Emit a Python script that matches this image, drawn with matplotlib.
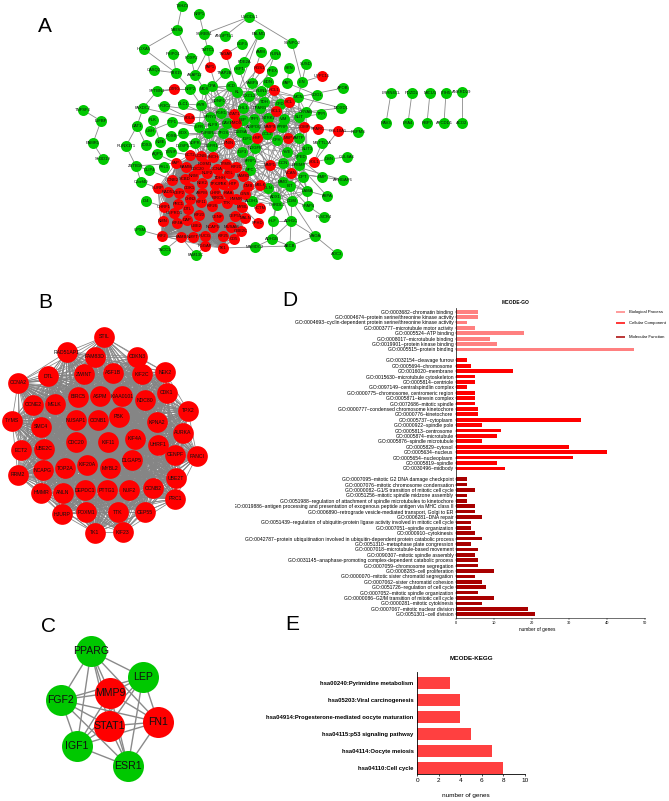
# -*- coding: utf-8 -*-
import itertools
import matplotlib
matplotlib.use('Agg')
import matplotlib.pyplot as plt
from matplotlib.collections import LineCollection
from matplotlib.transforms import Bbox

plt.rcParams['font.family'] = ['Liberation Sans', 'DejaVu Sans']

W, H = 669, 801
GREEN = '#00C800'
RED = '#FF0000'

##########################panel A network (name, x, y)##########################
a_green = [
    ('TSHZ3', 182, 6), ('NRP1', 199, 14), ('UMODL1', 249, 17), ('MEIS2', 177, 30), ('SORBS1', 204, 34),
    ('ANGPTL1', 225, 36), ('PALMD', 259, 34), ('HOXA5', 144, 49), ('TMTC1', 208, 50), ('EGF3', 242, 44),
    ('AMM', 261, 52), ('PLIN4', 275, 54), ('PSIPG1', 173, 54), ('FOXP2', 191, 58), ('PDE2A', 244, 62),
    ('HBP1', 239, 69), ('PPEX', 272, 71), ('CASQ2', 154, 70), ('TBX15', 176, 73), ('AKAP12', 195, 75),
    ('TFAP2B', 225, 73), ('SPTBN1', 157, 91), ('NRP2', 190, 89), ('MDS', 204, 89), ('OPA', 212, 86),
    ('SCD', 231, 86), ('KL', 237, 92), ('FABP4', 252, 83), ('EDN', 268, 82), ('PLIN1', 261, 91),
    ('CXCL2', 249, 96), ('TDH', 264, 102), ('CFD', 280, 104), ('FAXDC2', 143, 108), ('HR3C2', 164, 106),
    ('DLC1', 183, 104), ('KVR', 201, 105), ('SDNFO', 219, 101), ('CHL1', 243, 108), ('PPARG', 260, 108),
    ('PFRY1', 210, 117), ('FGR1', 221, 113), ('LEP', 243, 120), ('TFPI', 254, 119), ('NTRK2', 268, 118),
    ('VIM', 284, 119), ('PLK', 153, 120), ('TTF1', 172, 122), ('CAT1', 137, 126), ('LIFR', 199, 127),
    ('KLF9', 213, 125), ('CAV1', 227, 123), ('ADIPOQ', 254, 127), ('FPRP', 282, 127), ('TNFSF3', 83, 110),
    ('IGFBP', 101, 121), ('PAMR1', 93, 143), ('SH3D19', 103, 159), ('RUNX1T1', 126, 146), ('USH', 150, 131),
    ('NME', 160, 142), ('FOSB', 171, 136), ('BDX', 183, 133), ('TOX3', 146, 145), ('DUSP1', 183, 146),
    ('SDPR', 195, 143), ('TGFBR3', 208, 133), ('TFOS', 223, 133), ('C1BSA', 241, 132), ('IGF1', 247, 139),
    ('CCL2', 267, 134), ('CFH', 277, 140), ('TGFR1', 212, 146), ('AQP1', 157, 154), ('TXNIP', 171, 152),
    ('ZBTB16', 136, 166), ('CLIP4', 149, 170), ('FHL1', 164, 167), ('C2orf40', 141, 182), ('ID4', 146, 201),
    ('GPSM', 140, 230), ('TACC1', 165, 250), ('FAM13C', 196, 255), ('MAMDC2', 255, 247), ('HLF', 273, 221),
    ('ADH1B', 272, 239), ('SFRP1', 250, 161), ('SPC', 250, 170), ('ALDH1', 252, 201), ('GLN', 268, 188),
    ('ADX1', 275, 197), ('CHRDL1', 277, 205), ('IGF3', 242, 152), ('NDGFR', 255, 148), ('DCN', 283, 163),
    ('SYNPO2', 292, 43), ('SYN', 289, 68), ('SUSD', 306, 64), ('LIN', 302, 82), ('PAP', 287, 83),
    ('APOB', 343, 88), ('CDO1', 317, 95), ('MCN', 298, 97), ('MOXD1', 341, 108), ('TPPI', 321, 114),
    ('CRYAB', 306, 112), ('SLIT', 299, 117), ('RBPMS', 358, 132), ('AMTP', 299, 138), ('METTL7A', 322, 143),
    ('SLIT3', 307, 149), ('YVE', 287, 152), ('DSN', 329, 159), ('COL6A6', 347, 157), ('CPED', 301, 157),
    ('EFEMP', 299, 165), ('DPT', 303, 177), ('EMP', 322, 177), ('ARHGAP6', 343, 180), ('MMO', 283, 182),
    ('BIT', 290, 186), ('LAMA', 307, 191), ('ASPA', 327, 196), ('DGM', 292, 201), ('HFAP4', 308, 206),
    ('PLSCR4', 324, 217), ('ADH1C', 291, 221), ('MAOA', 315, 236), ('ABCB', 290, 246), ('AOC3', 337, 254),
]
a_red = [
    ('TAGAP', 226, 54), ('TAP1', 210, 67), ('RGS1', 259, 68), ('DJRG', 174, 89), ('RCL1', 274, 90),
    ('SCL1', 276, 111), ('SOLB', 189, 118), ('STAT1', 234, 114), ('HMOX', 236, 123), ('MMP9', 270, 127),
    ('HSP', 257, 138), ('MSP', 288, 138), ('PNIN', 229, 143), ('UPPC15', 322, 76), ('SCL', 289, 102),
    ('COMP', 304, 127), ('SPARC', 318, 129), ('COL10A1', 338, 131), ('SOL1', 314, 162), ('VCAN', 291, 173),
    ('HCTM', 260, 208), ('PPHD', 258, 223), ('MMP1', 270, 165), ('CMB', 248, 186), ('MELK', 260, 185),
]
a_core = [
    ('FAP', 176, 163), ('BAMM', 186, 167), ('ECT2', 190, 155), ('CCNB', 201, 156), ('SNCH', 213, 157),
    ('FOXM1', 205, 164), ('CDC20', 198, 169), ('NUF2', 207, 173), ('CCNA', 217, 169), ('TYMS', 226, 164),
    ('KIF2C', 236, 167), ('STIL', 229, 173), ('FAM83', 243, 176), ('TDHH', 220, 178), ('NRM', 193, 176),
    ('CCNE2', 172, 180), ('SCBD', 185, 179), ('CDK1', 189, 188), ('NEK2', 202, 183), ('TPX2', 215, 184),
    ('PBK', 223, 184), ('HTP', 233, 184), ('HURP', 158, 188), ('RAD51', 168, 192), ('DEP2', 179, 193),
    ('ASPM', 202, 193), ('UHRF', 215, 193), ('KIAA', 228, 193), ('GINS', 245, 194), ('CHN2', 190, 199),
    ('KIF11', 201, 202), ('BIRC5', 218, 198), ('HMMR', 236, 199), ('PRC1', 178, 204), ('UHRF1', 164, 207),
    ('DTL', 188, 209), ('KIF26', 212, 206), ('TTK', 227, 203), ('MYBL', 242, 207), ('UEPRO1', 174, 213),
    ('CEP55', 235, 216), ('MALN', 245, 218), ('KIF20', 199, 215), ('CENP', 218, 217), ('KIF4A', 177, 223),
    ('DAP', 187, 220), ('UBE2', 196, 226), ('NCAPG', 213, 227), ('MUSAM', 231, 227), ('NMN', 163, 221),
    ('OBE2C', 241, 231), ('KIF2', 162, 236), ('FAMB', 181, 237), ('NMYT', 193, 237), ('PUCG', 205, 236),
    ('KIF25', 223, 236), ('CD5', 234, 239), ('FGGAP', 205, 246), ('TK1', 223, 248),
]
a_pairs = [
    ('LRRN4CL', 391, 93, 'NAV3', 386, 123), ('PDZD2', 412, 93, 'EYA4', 408, 123),
    ('MICU3', 430, 93, 'RBP7', 427, 123), ('ITIH5', 446, 93, 'APCDD1', 444, 123),
    ('ANKRD29', 462, 92, 'ACO2', 462, 123),
]
a_edges = [
    ('TSHZ3', 'MEIS2'), ('NRP1', 'SORBS1'), ('UMODL1', 'SORBS1'), ('UMODL1', 'SYNPO2'), ('UMODL1', 'ANGPTL1'),
    ('MEIS2', 'HOXA5'), ('MEIS2', 'FOXP2'), ('SORBS1', 'TMTC1'), ('TMTC1', 'TAP1'), ('TMTC1', 'AKAP12'),
    ('HOXA5', 'TBX15'), ('FOXP2', 'AKAP12'), ('AKAP12', 'MDS'), ('TBX15', 'NRP2'), ('CASQ2', 'TBX15'),
    ('PSIPG1', 'TBX15'), ('PALMD', 'HBP1'), ('PALMD', 'CAV1'), ('EGF3', 'TAGAP'), ('AMM', 'CHL1'),
    ('PLIN4', 'FABP4'), ('PLIN4', 'PLIN1'), ('PPEX', 'CXCL2'), ('SPTBN1', 'DJRG'), ('DJRG', 'NRP2'),
    ('SPTBN1', 'FAXDC2'), ('FAXDC2', 'SOLB'), ('HR3C2', 'SOLB'), ('FAXDC2', 'CAT1'), ('CAT1', 'TOX3'),
    ('CAT1', 'RUNX1T1'), ('RUNX1T1', 'ZBTB16'), ('PLK', 'USH'), ('USH', 'TTF1'), ('PLK', 'NME'),
    ('TNFSF3', 'IGFBP'), ('IGFBP', 'PAMR1'), ('PAMR1', 'SH3D19'), ('DLC1', 'KVR'), ('SOLB', 'PFRY1'),
    ('TTF1', 'LIFR'), ('NRP2', 'KVR'), ('SYNPO2', 'LIN'), ('SYN', 'PAP'), ('SUSD', 'LIN'), ('LIN', 'UPPC15'),
    ('LIN', 'MCN'), ('APOB', 'MCN'), ('CDO1', 'CRYAB'), ('MOXD1', 'CRYAB'), ('TPPI', 'SLIT'),
    ('COL10A1', 'RBPMS'), ('COL10A1', 'SPARC'), ('SPARC', 'COMP'), ('COMP', 'SLIT'), ('COL10A1', 'SOL1'),
    ('METTL7A', 'SOL1'), ('DSN', 'COL6A6'), ('DSN', 'SOL1'), ('SOL1', 'EFEMP'), ('VCAN', 'ARHGAP6'),
    ('VCAN', 'EMP'), ('VCAN', 'LAMA'), ('VCAN', 'DPT'), ('LAMA', 'ASPA'), ('LAMA', 'HFAP4'), ('HFAP4', 'PLSCR4'),
    ('DGM', 'HFAP4'), ('DGM', 'ADH1C'), ('ADH1C', 'MAOA'), ('ADH1C', 'ABCB'), ('MAOA', 'ABCB'), ('MAOA', 'AOC3'),
    ('MAOA', 'DGM'), ('ADH1C', 'HLF'), ('HLF', 'ADH1B'), ('ADH1B', 'ABCB'), ('ADH1B', 'ADH1C'), ('HLF', 'CHRDL1'),
    ('MAMDC2', 'TK1'), ('MAMDC2', 'ABCB'), ('MAMDC2', 'ADH1B'), ('GPSM', 'KIF2'), ('TACC1', 'FAMB'), ('FAM13C', 'FGGAP'),
    ('FAM13C', 'FAMB'), ('C2orf40', 'HURP'), ('C2orf40', 'ZBTB16'), ('ID4', 'UHRF1'), ('ZBTB16', 'FAP'),
    ('CLIP4', 'CCNE2'), ('FHL1', 'CCNE2'), ('ZBTB16', 'CLIP4'), ('AQP1', 'FAP'), ('TXNIP', 'ECT2'),
    ('NME', 'FOSB'), ('PPHD', 'MYBL'), ('HCTM', 'ALDH1'), ('ALDH1', 'GINS'), ('GLN', 'ADX1'), ('ADX1', 'CHRDL1'),
    ('HBP1', 'CXCL2'), ('TFAP2B', 'OPA'), ('TAP1', 'CAV1'), ('TAGAP', 'KL'), ('RGS1', 'KL'), ('PPEX', 'TDH'),
    ('SPTBN1', 'NRP2'), ('DLC1', 'CAV1'), ('KVR', 'STAT1'), ('HR3C2', 'FGR1'), ('TTF1', 'KLF9'), ('FOSB', 'TFOS'),
    ('BDX', 'TGFBR3'), ('SDPR', 'CAV1'), ('DUSP1', 'TGFR1'), ('MOXD1', 'MCN'), ('TPPI', 'CFD'), ('CDO1', 'PAP'),
    ('COMP', 'IGF1'), ('SPARC', 'VIM'), ('EMP', 'CFH'), ('ARHGAP6', 'DCN'), ('LAMA', 'SFRP1'), ('ASPA', 'EFEMP'),
    ('DGM', 'SFRP1'), ('HFAP4', 'IGF1'), ('ADH1C', 'MMP1'), ('CHRDL1', 'ADIPOQ'), ('ALDH1', 'CFH'), ('HLF', 'DCN'),
]
# which pairs are close enough to be joined in the crowded middle
a_middle_reach = 38

##########################panel B network###################################
b_nodes = [
    ('STIL', 104, 337), ('RAD51AP1', 67, 352), ('FAM83D', 95, 357), ('CDKN3', 137, 357), ('NEK2', 165, 372),
    ('TPX2', 188, 411), ('CDK1', 167, 393), ('NDC80', 145, 400), ('KIAA0101', 122, 396), ('ASPM', 100, 396),
    ('BIRC5', 78, 397), ('MELK', 55, 404), ('CCNE2', 33, 405), ('DTL', 48, 376), ('CCNA2', 18, 383),
    ('ZWINT', 84, 374), ('ASF1B', 113, 373), ('KIF2C', 142, 374), ('TYMS', 12, 421), ('SMC4', 41, 427),
    ('NUSAP1', 76, 420), ('CCNB1', 98, 420), ('PBK', 119, 417), ('KPNA2', 157, 422), ('AURKA', 183, 433),
    ('ECT2', 21, 450), ('UBE2C', 44, 449), ('CDC20', 76, 442), ('KIF11', 108, 442), ('KIF4A', 135, 439),
    ('UHRF1', 158, 445), ('CENPF', 175, 455), ('FANCI', 197, 456), ('DLGAP5', 132, 460), ('KIF20A', 87, 465),
    ('TOP2A', 65, 468), ('MYBL2', 110, 468), ('NCAPG', 43, 470), ('RRM2', 18, 475), ('UBE2T', 176, 478),
    ('CCNB2', 153, 488), ('PRC1', 175, 499), ('NUF2', 129, 490), ('PTTG1', 107, 490), ('DEPDC1', 85, 490),
    ('ANLN', 63, 493), ('HMMR', 41, 493), ('HJURP', 62, 514), ('FOXM1', 86, 512), ('TTK', 118, 512),
    ('CEP55', 145, 512), ('TK1', 95, 533), ('KIF23', 123, 532),
]

##########################panel C network###################################
c_green = [('PPARG', 91, 651), ('LEP', 143, 677), ('FGF2', 61, 700), ('IGF1', 77, 746), ('ESR1', 128, 766)]
c_red = [('MMP9', 110, 693), ('FN1', 158, 722), ('STAT1', 109, 726)]

##########################panel D bars######################################
go_bp_terms = [
    'GO:0003682~chromatin binding', 'GO:0004674~protein serine/threonine kinase activity',
    'GO:0004693~cyclin-dependent protein serine/threonine kinase activity', 'GO:0003777~microtubule motor activity',
    'GO:0005524~ATP binding', 'GO:0008017~microtubule binding', 'GO:0019901~protein kinase binding',
    'GO:0005515~protein binding',
]
go_bp_values = [6, 6, 3, 5, 18, 9, 11, 47]
go_cc_terms = [
    'GO:0032154~cleavage furrow', 'GO:0005694~chromosome', 'GO:0016020~membrane',
    'GO:0015630~microtubule cytoskeleton', 'GO:0005814~centriole', 'GO:0097149~centralspindlin complex',
    'GO:0000775~chromosome, centromeric region', 'GO:0005871~kinesin complex', 'GO:0072686~mitotic spindle',
    'GO:0000777~condensed chromosome kinetochore', 'GO:0000776~kinetochore', 'GO:0005737~cytoplasm',
    'GO:0000922~spindle pole', 'GO:0005813~centrosome', 'GO:0005874~microtubule', 'GO:0005876~spindle microtubule',
    'GO:0005829~cytosol', 'GO:0005634~nucleus', 'GO:0005654~nucleoplasm', 'GO:0005819~spindle', 'GO:0030496~midbody',
]
go_cc_values = [3, 4, 15, 5, 5, 3, 5, 5, 5, 6, 6, 33, 7, 12, 11, 7, 30, 40, 31, 11, 13]
go_mf_terms = [
    'GO:0007095~mitotic G2 DNA damage checkpoint', 'GO:0007076~mitotic chromosome condensation',
    'GO:0000082~G1/S transition of mitotic cell cycle', 'GO:0051256~mitotic spindle midzone assembly',
    'GO:0051988~regulation of attachment of spindle microtubules to kinetochore',
    'GO:0019886~antigen processing and presentation of exogenous peptide antigen via MHC class II',
    'GO:0006890~retrograde vesicle-mediated transport, Golgi to ER', 'GO:0006281~DNA repair',
    'GO:0051439~regulation of ubiquitin-protein ligase activity involved in mitotic cell cycle',
    'GO:0007051~spindle organization', 'GO:0000910~cytokinesis',
    'GO:0042787~protein ubiquitination involved in ubiquitin-dependent protein catabolic process',
    'GO:0051310~metaphase plate congression', 'GO:0007018~microtubule-based movement',
    'GO:0090307~mitotic spindle assembly', 'GO:0031145~anaphase-promoting complex-dependent catabolic process',
    'GO:0007059~chromosome segregation', 'GO:0008283~cell proliferation', 'GO:0000070~mitotic sister chromatid segregation',
    'GO:0007062~sister chromatid cohesion', 'GO:0051726~regulation of cell cycle', 'GO:0007052~mitotic spindle organization',
    'GO:0000086~G2/M transition of mitotic cell cycle', 'GO:0000281~mitotic cytokinesis', 'GO:0007067~mitotic nuclear division',
    'GO:0051301~cell division',
]
go_mf_values = [3, 3, 5, 3, 3, 5, 5, 7, 4, 4, 5, 7, 4, 6, 5, 6, 6, 10, 5, 7, 8, 6, 10, 7, 19, 21]
go_ticks = [0, 10, 20, 30, 40, 50]
go_legend = ['Biological Process', 'Cellular Component', 'Molecular Function']
go_colors = ['#FF8080', '#FF0000', '#A80000']

##########################panel E bars######################################
kegg_terms = [
    'hsa00240:Pyrimidine metabolism', 'hsa05203:Viral carcinogenesis',
    'hsa04914:Progesterone-mediated oocyte maturation', 'hsa04115:p53 signaling pathway',
    'hsa04114:Oocyte meiosis', 'hsa04110:Cell cycle',
]
kegg_values = [3, 4, 4, 5, 7, 8]
kegg_ticks = [0, 2, 4, 6, 8, 10]


def px_axes(left, top, right, bottom):
    return fig.add_axes([left / W, 1 - bottom / H, (right - left) / W, (bottom - top) / H])


def draw_nodes(nodes, color, diameter, fontsize, zorder=3):
    xs = [n[1] for n in nodes]
    ys = [n[2] for n in nodes]
    bg.scatter(xs, ys, s=(diameter * 0.72) ** 2, c=color, linewidths=0, zorder=zorder)
    for name, x, y in nodes:
        bg.text(x, y, name, fontsize=fontsize, ha='center', va='center', color='#101010', zorder=zorder + 2)


def draw_edges(pos, pairs, lw, color='#8a8a8a', zorder=1):
    segs = [(pos[a], pos[b]) for a, b in pairs]
    bg.add_collection(LineCollection(segs, colors=color, linewidths=lw, zorder=zorder))


fig = plt.figure(figsize=(W / 100, H / 100), dpi=100)
bg = fig.add_axes([0, 0, 1, 1])
bg.set_xlim(0, W)
bg.set_ylim(H, 0)
bg.axis('off')

# panel letters
for letter, x, y in [('A', 45, 27), ('B', 45, 302), ('C', 49, 627), ('D', 290, 300), ('E', 292, 625)]:
    bg.text(x, y, letter, fontsize=15, ha='center', va='center', color='black')

#################panel A#################
a_all = a_green + a_red + a_core
a_pos = {n: (x, y) for n, x, y in a_all}
draw_edges(a_pos, a_edges, 0.6)
# the red core is fully meshed
core_pairs = list(itertools.combinations([n[0] for n in a_core], 2))
draw_edges(a_pos, core_pairs, 0.5, color='#808080')
# crowded upper middle: join neighbours
mid_nodes = [n for n in a_all if 195 <= n[1] <= 312 and 85 <= n[2] <= 205]
mid_pairs = []
for p, q in itertools.combinations(mid_nodes, 2):
    if (p[1] - q[1]) ** 2 + (p[2] - q[2]) ** 2 < a_middle_reach ** 2:
        mid_pairs.append((p[0], q[0]))
draw_edges(a_pos, mid_pairs, 0.5)
for n1, x1, y1, n2, x2, y2 in a_pairs:
    bg.plot([x1, x2], [y1, y2], color='#8a8a8a', lw=0.6, zorder=1)
draw_nodes(a_green, GREEN, 11, 3.0, zorder=2)
draw_nodes(a_red, RED, 11, 3.0, zorder=2)
draw_nodes(a_core, RED, 11, 3.0, zorder=2)
draw_nodes([(p[0], p[1], p[2]) for p in a_pairs] + [(p[3], p[4], p[5]) for p in a_pairs], GREEN, 11, 3.0, zorder=2)

#################panel B#################
b_pos = {n: (x, y) for n, x, y in b_nodes}
draw_edges(b_pos, list(itertools.combinations(b_pos, 2)), 0.55, color='#858585')
draw_nodes(b_nodes, RED, 20.7, 3.7, zorder=2)

#################panel C#################
c_pos = {n: (x, y) for n, x, y in c_green + c_red}
draw_edges(c_pos, list(itertools.combinations(c_pos, 2)), 1.0)
draw_nodes(c_green, GREEN, 31, 7.6, zorder=2)
draw_nodes(c_red, RED, 31, 7.6, zorder=2)

#################panel D#################
D_FS = 3.65
rows, labels, vals, cols = [], [], [], []
row = 0
for terms, values, col in zip([go_bp_terms, go_cc_terms, go_mf_terms],
                              [go_bp_values, go_cc_values, go_mf_values], go_colors):
    for t, v in zip(terms, values):
        rows.append(row)
        labels.append(t)
        vals.append(v)
        cols.append(col)
        row += 1
    row += 1  # blank row between the groups

axd = px_axes(455.7, 308, 645.2, 618)
axd.barh(rows, vals, height=0.68, color=cols, linewidth=0)
axd.set_xlim(0, 50)
axd.set_ylim(56.7, -0.68)
axd.set_yticks(rows)
axd.set_yticklabels(labels, fontsize=D_FS)
axd.set_xticks(go_ticks)
axd.set_xticklabels(go_ticks, fontsize=2.8)
axd.tick_params(axis='y', length=1, width=0.3, pad=0.6)
axd.tick_params(axis='x', length=1.2, width=0.3, pad=0.8)
axd.spines['top'].set_visible(False)
axd.spines['right'].set_visible(False)
axd.spines['left'].set_linewidth(0.5)
axd.spines['bottom'].set_linewidth(0.4)
axd.patch.set_alpha(0)
for lab in axd.get_yticklabels():
    if lab.get_text().startswith('GO:0019886'):
        # the long term runs under the edge of this panel in the figure
        lab.set_clip_on(True)
        lab.set_clip_box(Bbox.from_extents(235, 0, W, H))
bg.text(537, 629, 'number of genes', fontsize=3.4, ha='center', va='center')
bg.text(516, 303, 'MCODE-GO', fontsize=3.5, fontweight='bold', ha='center', va='center')
for name, col, y in zip(go_legend, go_colors, [312, 323, 337]):
    bg.plot([616, 625], [y, y], color=col, lw=1.1, solid_capstyle='butt')
    bg.text(629, y, name, fontsize=3.05, ha='left', va='center')

#################panel E#################
axe = px_axes(417.3, 671.7, 524.7, 773.5)
ypos = list(range(len(kegg_terms)))
axe.barh(ypos, kegg_values, height=0.71, color='#FF4040', linewidth=0)
axe.set_xlim(0, 10)
axe.set_ylim(5.3, -0.68)
axe.set_yticks(ypos)
axe.set_yticklabels(kegg_terms, fontsize=4.25, fontweight='bold')
axe.set_xticks(kegg_ticks)
axe.set_xticklabels(kegg_ticks, fontsize=4.6)
axe.tick_params(axis='y', length=0, pad=2.6)
axe.tick_params(axis='x', length=1.6, width=0.5, pad=1.5)
axe.spines['top'].set_visible(False)
axe.spines['right'].set_visible(False)
axe.spines['left'].set_linewidth(0.6)
axe.spines['bottom'].set_linewidth(0.6)
bg.text(466, 796, 'number of genes', fontsize=4.6, ha='center', va='center')
bg.text(471, 659, 'MCODE-KEGG', fontsize=4.5, fontweight='bold', ha='center', va='center')

fig.savefig('out.png', dpi=100)
plt.close(fig)
